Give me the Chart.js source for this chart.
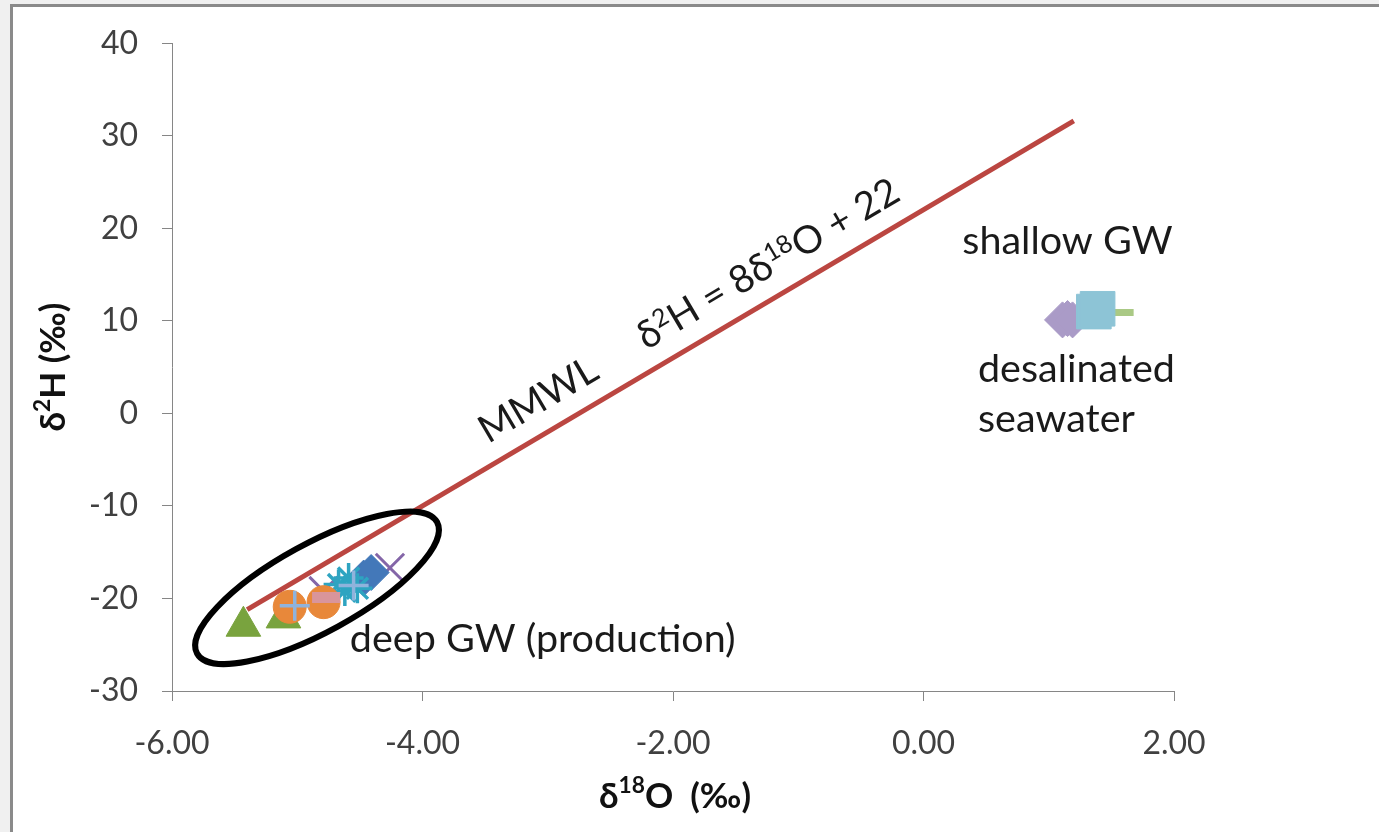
<!DOCTYPE html>
<html>
<head>
<meta charset="utf-8">
<title>MMWL</title>
<script src="https://cdn.jsdelivr.net/npm/chart.js@4.4.1/dist/chart.umd.min.js"></script>
<style>
html,body{margin:0;padding:0;background:#fff;overflow:hidden;}
#wrap{width:1379px;height:832px;position:relative;}
</style>
</head>
<body>
<div id="wrap"><canvas id="c"></canvas></div>
<script>
// 轴刻度
var xTicks = [-6, -4, -2, 0, 2];
var yTicks = [-30, -20, -10, 0, 10, 20, 30, 40];

// MMWL 线两端 (δ18O, δ2H)
var mmwlX = [-5.4, 1.2];
var mmwlY = [-21.2, 31.6];

// 深层地下水 (production)
var diamondX = [-4.47, -4.41];
var diamondY = [-17.8, -17.2];
var triX = [-5.43, -5.11];
var triY = [-23.0, -22.1];
var xMarkX = [-4.26, -4.79];
var xMarkY = [-16.7, -19.2];
var starX = [-4.67, -4.59, -4.52, -4.62];
var starY = [-18.5, -17.8, -18.9, -19.2];
var circX = [-5.06, -4.79];
var circY = [-20.9, -20.4];
var plusX = [-5.02, -4.55];
var plusY = [-20.8, -18.6];
var pinkX = [-4.77];
var pinkY = [-19.9];

// 浅层地下水 / 淡化海水
var lilacX = [1.11, 1.15, 1.19];
var lilacY = [10.1, 10.25, 10.1];
var sqX = [1.36, 1.39];
var sqY = [11.0, 11.3];
var gdashX = [1.55];
var gdashY = [10.9];

var pts = function(xs, ys){
    var out = [];
    for(var i=0;i<xs.length;i++){
        out.push({x: xs[i], y: ys[i]});
    }
    return out;
}

var FONT = "Lato, 'Open Sans', sans-serif";

// 带上标的文字, parts: [文字, 是否上标]
function richWidth(ctx, parts, size, weight){
    var w = 0;
    parts.forEach(function(p){
        ctx.font = weight + ' ' + (p[1] ? size*0.65 : size) + 'px ' + FONT;
        w += ctx.measureText(p[0]).width;
    });
    return w;
}
function richText(ctx, parts, x, y, size, weight){
    var cx = x;
    parts.forEach(function(p){
        ctx.font = weight + ' ' + (p[1] ? size*0.65 : size) + 'px ' + FONT;
        ctx.fillText(p[0], cx, p[1] ? y - size*0.33 : y);
        cx += ctx.measureText(p[0]).width;
    });
}

// 边框
var framePlugin = {
    id: 'frame',
    beforeDraw: function(chart){
        var ctx = chart.ctx;
        ctx.save();
        ctx.fillStyle = '#f0f0f0';
        ctx.fillRect(0, 0, chart.width, chart.height);
        ctx.fillStyle = '#ffffff';
        ctx.fillRect(10, 4, chart.width - 10, chart.height - 4);
        ctx.fillStyle = '#8a8a8a';
        ctx.fillRect(10, 4, 3, chart.height - 4);
        ctx.fillRect(10, 4, chart.width - 10, 3);
        ctx.restore();
    }
};

// 椭圆, 注释文字, 轴标题
var notePlugin = {
    id: 'notes',
    afterDatasetsDraw: function(chart){
        var ctx = chart.ctx;
        var xs = chart.scales.x, ys = chart.scales.y;
        var area = chart.chartArea;
        ctx.save();
        // 椭圆 (长轴两端用数据坐标)
        var ax = xs.getPixelForValue(-5.80), ay = ys.getPixelForValue(-25.95);
        var bx = xs.getPixelForValue(-3.884), by = ys.getPixelForValue(-11.74);
        var cx = (ax+bx)/2, cy = (ay+by)/2;
        var rx = Math.sqrt((bx-ax)*(bx-ax)+(by-ay)*(by-ay))/2;
        var rot = Math.atan2(by-ay, bx-ax);
        ctx.beginPath();
        ctx.ellipse(cx, cy, rx, 44, rot, 0, Math.PI*2);
        ctx.lineWidth = 6;
        ctx.strokeStyle = '#000';
        ctx.stroke();

        ctx.fillStyle = '#1a1a1a';
        ctx.textBaseline = 'middle';
        ctx.textAlign = 'left';
        ctx.font = '39.5px ' + FONT;
        ctx.fillText('shallow GW', xs.getPixelForValue(0.31), ys.getPixelForValue(18.55));
        ctx.fillText('desalinated', xs.getPixelForValue(0.435), ys.getPixelForValue(4.75));
        ctx.fillText('seawater', xs.getPixelForValue(0.435), ys.getPixelForValue(-0.65));
        ctx.fillText('deep GW (production)', xs.getPixelForValue(-4.58), ys.getPixelForValue(-24.4));

        // 轴标题
        ctx.fillStyle = '#111';
        ctx.textBaseline = 'middle';
        var xt = [['\u03B4', false], ['18', true], ['O  (\u2030)', false]];
        var w = richWidth(ctx, xt, 35, 'bold');
        richText(ctx, xt, (area.left + area.right)/2 - w/2 + 2, 797, 35, 'bold');
        var yt = [['\u03B4', false], ['2', true], ['H (\u2030)', false]];
        ctx.save();
        ctx.translate(54, (area.top + area.bottom)/2);
        ctx.rotate(-Math.PI/2);
        w = richWidth(ctx, yt, 35, 'bold');
        richText(ctx, yt, -w/2, 0, 35, 'bold');
        ctx.restore();

        // 沿 MMWL 的斜字
        var l0x = xs.getPixelForValue(mmwlX[0]), l0y = ys.getPixelForValue(mmwlY[0]);
        var l1x = xs.getPixelForValue(mmwlX[1]), l1y = ys.getPixelForValue(mmwlY[1]);
        var ang = Math.atan2(l1y-l0y, l1x-l0x);
        ctx.fillStyle = '#1a1a1a';
        ctx.translate(xs.getPixelForValue(-3.476), ys.getPixelForValue(-3.32));
        ctx.rotate(ang);
        ctx.textBaseline = 'alphabetic';
        ctx.font = '38.5px ' + FONT;
        ctx.fillText('MMWL', 0, 0);
        richText(ctx, [['\u03B4', false], ['2', true], ['H = 8\u03B4', false], ['18', true], ['O + 22', false]], 184, 0, 38.5, 'normal');
        ctx.restore();
    }
};

var ds = [
    {label:'plus', data: pts(plusX, plusY), pointStyle:'cross', pointRadius:15, borderWidth:3.5, borderColor:'#8fb3dc', backgroundColor:'#8fb3dc'},
    {label:'pink', data: pts(pinkX, pinkY), pointStyle:'line', pointRadius:14, borderWidth:11, borderColor:'#d9959b', backgroundColor:'#d9959b'},
    {label:'circle', data: pts(circX, circY), pointStyle:'circle', pointRadius:16.5, borderWidth:1, borderColor:'#e8883a', backgroundColor:'#e8883a'},
    {label:'tri', data: pts(triX, triY), pointStyle:'triangle', pointRadius:20, borderWidth:1, borderColor:'#79a33e', backgroundColor:'#79a33e'},
    {label:'star', data: pts(starX, starY), pointStyle:'star', pointRadius:15, borderWidth:3.5, borderColor:'#2ea4c1', backgroundColor:'#2ea4c1'},
    {label:'diamond', data: pts(diamondX, diamondY), pointStyle:'rectRot', pointRadius:18, borderWidth:1, borderColor:'#4378b9', backgroundColor:'#4378b9'},
    {label:'x', data: pts(xMarkX, xMarkY), pointStyle:'crossRot', pointRadius:20, borderWidth:3, borderColor:'#8466a8', backgroundColor:'#8466a8'},
    {label:'square', data: pts(sqX, sqY), pointStyle:'rect', pointRadius:24.5, borderWidth:1, borderColor:'#8dc4d6', backgroundColor:'#8dc4d6'},
    {label:'gdash', data: pts(gdashX, gdashY), pointStyle:'line', pointRadius:16, borderWidth:7, borderColor:'#aac985', backgroundColor:'#aac985'},
    {label:'lilac', data: pts(lilacX, lilacY), pointStyle:'rectRot', pointRadius:18, borderWidth:1, borderColor:'#aa9bc7', backgroundColor:'#aa9bc7'},
    {label:'MMWL', type:'line', data: pts(mmwlX, mmwlY), showLine:true, pointRadius:0, borderWidth:5, borderColor:'#bb4641', fill:false}
];

var chart = new Chart(document.getElementById('c'), {
    type: 'scatter',
    data: {datasets: ds},
    options: {
        responsive: true,
        maintainAspectRatio: false,
        animation: false,
        events: [],
        layout: {padding: {left: 14, top: 41, right: 205, bottom: 0}},
        plugins: {legend: {display: false}, tooltip: {enabled: false}},
        scales: {
            x: {
                type: 'linear', min: -6, max: 2,
                afterBuildTicks: function(s){ s.ticks = xTicks.map(function(v){ return {value: v}; }); },
                afterFit: function(s){ s.height = 141; },
                grid: {display: true, drawOnChartArea: false, drawTicks: true, tickLength: 10, color: '#868686'},
                border: {display: true, color: '#868686', width: 1},
                ticks: {padding: 23, color: '#404040', font: {family: FONT, size: 32}, maxRotation: 0,
                    callback: function(v){ return v.toFixed(2); }},
                title: {display: false}
            },
            y: {
                type: 'linear', min: -30, max: 40,
                afterBuildTicks: function(s){ s.ticks = yTicks.map(function(v){ return {value: v}; }); },
                afterFit: function(s){ s.width = 158; },
                grid: {display: true, drawOnChartArea: false, drawTicks: true, tickLength: 10, color: '#868686'},
                border: {display: true, color: '#868686', width: 1},
                ticks: {padding: 24, color: '#404040', font: {family: FONT, size: 32}},
                title: {display: false}
            }
        }
    },
    plugins: [framePlugin, notePlugin]
});
</script>
</body>
</html>
